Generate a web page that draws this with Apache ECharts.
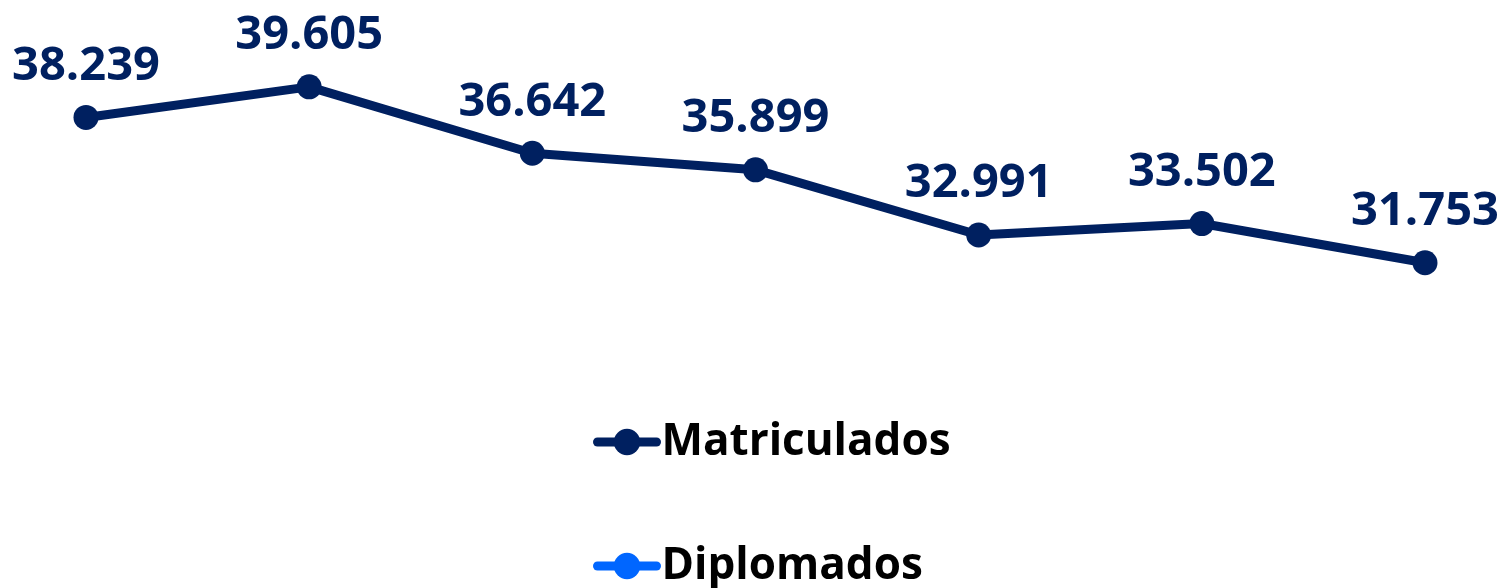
<!DOCTYPE html>
<html>
<head>
<meta charset="utf-8">
<script src="https://cdn.jsdelivr.net/npm/echarts@6/dist/echarts.min.js"></script>
<style>
  html, body { margin: 0; padding: 0; background: #fff; }
  #main { width: 1506px; height: 588px; }
</style>
</head>
<body>
<div id="main"></div>
<script>
// values (axis labels are hidden in the original)
var categorias = ['1', '2', '3', '4', '5', '6', '7'];
var matriculados = [38239, 39605, 36642, 35899, 32991, 33502, 31753];
var diplomados = [];

var myChart = echarts.init(document.getElementById('main'));
var option = {
    animation: false,
    textStyle: { fontFamily: 'Open Sans' },
    grid: { left: 86, right: 81, top: 78, height: 224 },
    xAxis: {
        type: 'category',
        data: categorias,
        boundaryGap: false,
        show: false
    },
    yAxis: {
        type: 'value',
        min: 30000,
        max: 40000,
        show: false
    },
    legend: {
        orient: 'vertical',
        left: 593,
        top: 420,
        height: 300,
        padding: 0,
        itemWidth: 59,
        itemHeight: 33,
        itemGap: 80,
        textStyle: { fontSize: 44, fontWeight: 'bold', color: '#000', fontFamily: 'Open Sans' },
        lineStyle: { width: 9, cap: 'round' },
        itemStyle: { borderWidth: 0 },
        data: ['Matriculados', 'Diplomados']
    },
    series: [{
            name: 'Matriculados',
            type: 'line',
            data: matriculados,
            symbol: 'circle',
            symbolSize: 25,
            color: '#002060',
            lineStyle: { width: 9, color: '#002060' },
            label: {
                show: true,
                position: 'top',
                distance: 15,
                fontSize: 47,
                fontWeight: 'bold',
                color: '#002060',
                fontFamily: 'Open Sans',
                formatter: function (p) {
                    return echarts.format.addCommas(p.value).replace(',', '.');
                }
            }
        },
        {
            name: 'Diplomados',
            type: 'line',
            data: diplomados,
            symbol: 'circle',
            symbolSize: 25,
            color: '#0066FF',
            lineStyle: { width: 9, color: '#0066FF' }
        }
    ]
};
myChart.setOption(option);
</script>
</body>
</html>
